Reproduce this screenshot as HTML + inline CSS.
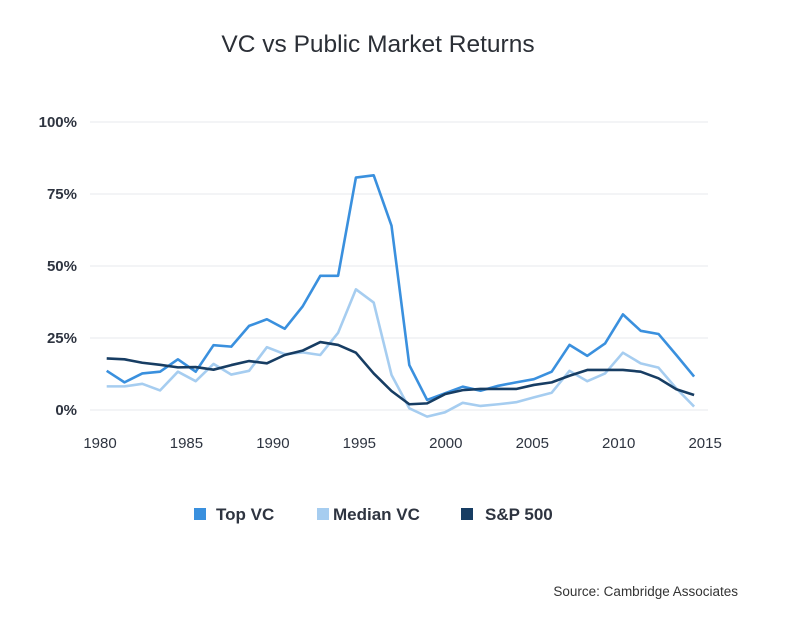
<!DOCTYPE html>
<html><head><meta charset="utf-8"><style>
body{margin:0;background:#fff;width:789px;height:626px;overflow:hidden;font-family:"Liberation Sans",sans-serif}
</style></head><body>
<svg id="chart" width="789" height="626" xmlns="http://www.w3.org/2000/svg">
<text x="378" y="52" text-anchor="middle" font-size="24.5" fill="#2b2f36">VC vs Public Market Returns</text>
<g id="grid"></g><g id="lines"></g>
<g font-size="17" font-weight="bold" fill="#2e3440">
<rect x="194" y="508" width="12" height="12" fill="#3a90de"/>
<text x="216" y="520">Top VC</text>
<rect x="317" y="508" width="12" height="12" fill="#a6cdf0"/>
<text x="333" y="520">Median VC</text>
<rect x="461" y="508" width="12" height="12" fill="#173d63"/>
<text x="485" y="520">S&amp;P 500</text>
</g>
<text x="738" y="596" text-anchor="end" font-size="13.5" fill="#333">Source: Cambridge Associates</text>
</svg>
<script>
const years=[1981,1982,1983,1984,1985,1986,1987,1988,1989,1990,1991,1992,1993,1994,1995,1996,1997,1998,1999,2000,2001,2002,2003,2004,2005,2006,2007,2008,2009,2010,2011,2012,2013,2014];
const topVC=[13.6,9.6,12.7,13.3,17.6,13.3,22.5,22,29.2,31.5,28.2,35.9,46.6,46.6,80.7,81.5,64,15.6,3.5,5.8,8.1,6.7,8.4,9.6,10.7,13.3,22.6,18.8,23.1,33.2,27.5,26.4,19.1,11.6];
const medianVC=[8.2,8.2,9.1,6.8,13.3,10,16,12.3,13.6,21.8,19.4,20,19.1,26.8,41.9,37.3,12.2,0.6,-2.3,-0.8,2.5,1.4,2,2.7,4.4,6,13.6,10,12.7,19.9,16.2,14.7,7.5,1.2];
const sp500=[17.9,17.6,16.4,15.7,14.8,14.9,14,15.6,17,16.2,19.1,20.6,23.6,22.6,19.9,12.7,6.6,2,2.3,5.5,6.9,7.3,7.3,7.3,8.7,9.6,11.9,13.9,13.9,13.9,13.3,11,7.2,5.2];
const yTicks=[0,25,50,75,100];
const yTickLabels=["0%","25%","50%","75%","100%"];
const xTicks=[1980,1985,1990,1995,2000,2005,2010,2015];
const NS="http://www.w3.org/2000/svg";
const y=v=>410-v*2.88;
const x=yr=>106.7+(yr-1981)*17.8;
const xl=yr=>100+(yr-1980)*17.29;
const grid=document.getElementById('grid'),lines=document.getElementById('lines');
yTicks.forEach((t,i)=>{
 const l=document.createElementNS(NS,'line');
 
 
 l.setAttribute('x1',90);l.setAttribute('x2',708);l.setAttribute('y1',y(t));l.setAttribute('y2',y(t));
 l.setAttribute('stroke','#eceef1');l.setAttribute('stroke-width','1.3');grid.appendChild(l);
 const tx=document.createElementNS(NS,'text');
 
 
 tx.setAttribute('x',77);tx.setAttribute('y',y(t)+5);tx.setAttribute('text-anchor','end');
 tx.setAttribute('font-size','15');tx.setAttribute('font-weight','bold');tx.setAttribute('fill','#2e3440');
 tx.textContent=yTickLabels[i];grid.appendChild(tx);
});
xTicks.forEach(t=>{
 const tx=document.createElementNS(NS,'text');
 
 
 tx.setAttribute('x',xl(t));tx.setAttribute('y',448);tx.setAttribute('text-anchor','middle');
 tx.setAttribute('font-size','15');tx.setAttribute('fill','#2e3440');
 tx.textContent=t;grid.appendChild(tx);
});
function series(vals,color,name){
 const p=document.createElementNS(NS,'polyline');
 
 
 p.setAttribute('points',vals.map((v,i)=>x(years[i])+','+y(v)).join(' '));
 p.setAttribute('fill','none');p.setAttribute('stroke',color);p.setAttribute('stroke-width','2.6');
 p.setAttribute('stroke-linejoin','round');lines.appendChild(p);
}
series(medianVC,'#a6cdf0','median-vc-line');
series(topVC,'#3a90de','top-vc-line');
series(sp500,'#173d63','sp500-line');
</script>
</body></html>
